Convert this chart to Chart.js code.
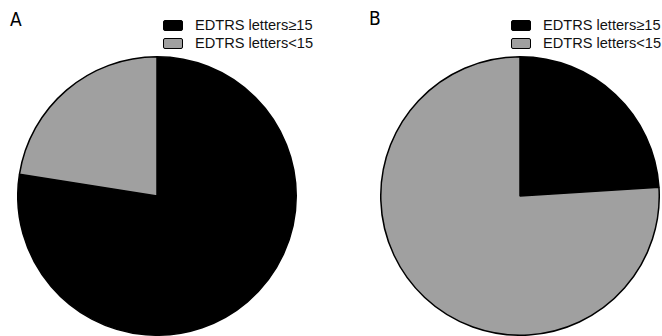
<!DOCTYPE html>
<html><head><meta charset="utf-8">
<script src="https://cdn.jsdelivr.net/npm/chart.js@4/dist/chart.umd.min.js"></script>
<style>
body{margin:0;background:#fff;width:662px;height:336px;position:relative;overflow:hidden;font-family:"Liberation Sans",Arial,sans-serif;}
.cv{position:absolute;}
.lbl{position:absolute;font-family:"DejaVu Sans Condensed","DejaVu Sans",sans-serif;font-size:19px;color:#000;}
.leg{position:absolute;font-size:14.6px;line-height:18px;color:#111;}
.leg div{display:flex;align-items:center;height:18px;}
.leg span.b{display:inline-block;width:18px;height:9px;border:1px solid #000;border-radius:2px;margin-right:12px;}
</style></head><body>
<div class="lbl" style="left:10px;top:8px">A</div>
<div class="lbl" style="left:369px;top:7px">B</div>
<div id="legA" class="leg" style="left:163px;top:16px"></div>
<div id="legB" class="leg" style="left:511px;top:16px"></div>
<div class="cv" style="left:17px;top:56px;width:280px;height:280px"><canvas id="cA"></canvas></div>
<div class="cv" style="left:380px;top:56px;width:280px;height:280px"><canvas id="cB"></canvas></div>
<script>
const categories = ['EDTRS letters≥15', 'EDTRS letters<15'];
const valuesA = [77.5, 22.5];
const valuesB = [24, 76];
const colors = ['#000000', '#a0a0a0'];

function legend(id){
  const el = document.getElementById(id);
  categories.forEach((c,i)=>{
    const d = document.createElement('div');
    const s = document.createElement('span'); s.className='b'; s.style.background = colors[i];
    d.appendChild(s); d.appendChild(document.createTextNode(c));
    el.appendChild(d);
  });
}
legend('legA'); legend('legB');

function pie(id, vals){
  new Chart(document.getElementById(id), {
    type:'pie',
    data:{labels:categories, datasets:[{data:vals, backgroundColor:colors, borderColor:'#000', borderWidth:1.5}]},
    options:{responsive:true, maintainAspectRatio:false, animation:false,
      plugins:{legend:{display:false}, tooltip:{enabled:false}},
      layout:{padding:0}}
  });
}
pie('cA', valuesA); pie('cB', valuesB);
</script>
</body></html>
